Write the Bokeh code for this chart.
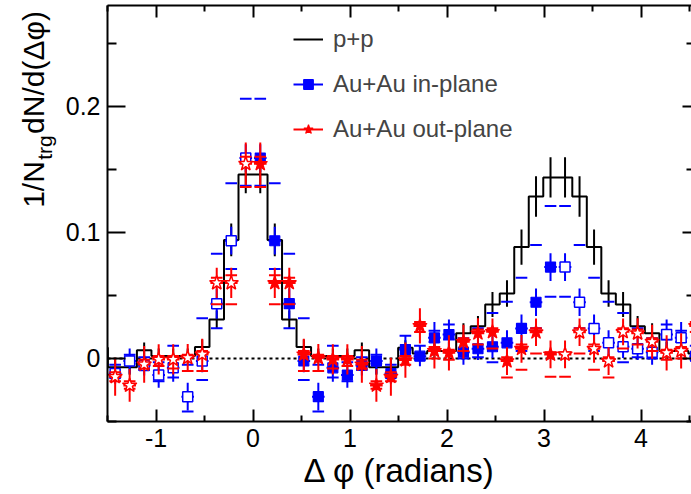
import numpy as np
from bokeh.plotting import figure
from bokeh.layouts import row
from bokeh.models import (FixedTicker, CustomJSTickFormatter, LinearAxis, Span,
                          Label, Legend, LegendItem, ColumnDataSource, Range1d)
from bokeh.embed import file_html
from bokeh.resources import INLINE

# ---------------- data (21 bins from 0 to pi, bin width pi/21) ----------------
n_bins = 21
pp_y = [0.146, 0.094, 0.031, 0.009, 0.002, 0.002, 0.002, 0.0066, -0.007, -0.007,
        0.0085, 0.004, 0.006, 0.006, 0.020, 0.0256, 0.0428, 0.0515, 0.0884, 0.1285, 0.1436]
pp_err = [0.015, 0.013, 0.007, 0.006, 0.006, 0.006, 0.006, 0.006, 0.006, 0.006,
          0.006, 0.006, 0.006, 0.007, 0.008, 0.008, 0.010, 0.0105, 0.014, 0.016, 0.016]

in_y = [0.159, 0.0934, 0.0435, -0.002, -0.0303, -0.0074, -0.0132, -0.0055, -0.0021, -0.012,
        0.0071, 0.0018, 0.0164, 0.019, 0.005, 0.0077, 0.0093, 0.0124, 0.0238, 0.0446, 0.0725]
in_err = [0.011, 0.011, 0.012, 0.009, 0.011, 0.011, 0.010, 0.008, 0.010, 0.008,
          0.011, 0.008, 0.0125, 0.012, 0.010, 0.009, 0.009, 0.010, 0.011, 0.011, 0.011]
in_sys_hi = [0.206, 0.139, 0.083, 0.032, -0.005, 0.010, -0.003, 0.001, 0.003, -0.005,
             0.018, 0.010, 0.022, 0.027, 0.016, 0.024, 0.036, 0.045, 0.064, 0.090, 0.121]
in_sys_lo = [0.137, 0.071, 0.024, -0.017, -0.042, -0.015, -0.018, -0.009, -0.004, -0.015,
             0.002, -0.001, 0.013, 0.015, 0.000, 0.001, -0.003, -0.002, 0.006, 0.024, 0.049]

out_y = [0.1544, 0.0599, 0.0599, 0.0032, 0.0005, -0.0008, -0.0008, -0.0047, -0.0214, -0.0145,
         -0.0013, 0.0258, 0.006, 0.0045, 0.0132, 0.020, 0.0211, -0.0021, 0.0077, 0.0208, 0.0032]
out_err = [0.017, 0.012, 0.012, 0.0125, 0.011, 0.012, 0.012, 0.0145, 0.013, 0.015,
           0.014, 0.014, 0.014, 0.014, 0.0135, 0.012, 0.0106, 0.011, 0.011, 0.011, 0.011]
out_sys_hi = [0.160, 0.066, 0.064, 0.006, 0.003, 0.002, 0.002, -0.001, -0.018, -0.011,
              0.002, 0.029, 0.009, 0.007, 0.016, 0.023, 0.024, 0.001, 0.011, 0.024, 0.005]
out_sys_lo = [0.136, 0.043, 0.043, -0.010, -0.010, -0.008, -0.006, -0.008, -0.024, -0.018,
              -0.005, 0.021, 0.000, -0.001, 0.006, 0.011, 0.008, -0.015, -0.009, 0.004, -0.0145]

x_ticks = [-1, 0, 1, 2, 3, 4]
x_minor = [-1.5, -0.5, 0.5, 1.5, 2.5, 3.5, 4.5]
y_ticks = [0, 0.1, 0.2]
y_minor = [-0.05, 0.05, 0.15, 0.25]

labels = ["p+p", "Au+Au in-plane", "Au+Au out-plane"]
x_title = "\u0394 \u03c6 (radians)"
y_title_parts = ["1/N", "trg", "dN/d(\u0394\u03c6)"]

# ---------------- geometry helpers ----------------
bw = np.pi / n_bins
centers = (np.arange(n_bins) + 0.5) * bw
half = n_bins // 2  # bin straddling pi/2
x_mirror = np.concatenate([-centers[:half + 1], 2 * np.pi - centers[half:]])


def mirror(v):
    v = np.asarray(v, dtype=float)
    return np.concatenate([v[:half + 1], v[half:]])


def make_sources(y, err, hi, lo):
    y, err, hi, lo = (np.asarray(a, dtype=float) for a in (y, err, hi, lo))
    xs_all = np.concatenate([centers, x_mirror])
    ys_all = np.concatenate([y, mirror(y)])
    es_all = np.concatenate([err, mirror(err)])
    hi_all = np.concatenate([hi, mirror(hi)])
    lo_all = np.concatenate([lo, mirror(lo)])
    ex = 0.065
    sx = 0.06
    allsrc = ColumnDataSource(dict(x=xs_all, y=ys_all, ylo=ys_all - es_all, yhi=ys_all + es_all,
                                   xl=xs_all - ex, xr=xs_all + ex,
                                   sxl=xs_all - sx, sxr=xs_all + sx, hi=hi_all, lo=lo_all))
    filled = ColumnDataSource(dict(x=centers, y=y))
    opened = ColumnDataSource(dict(x=x_mirror, y=mirror(y)))
    return allsrc, filled, opened


FONT = "Liberation Sans"
BLUE = "#0000ff"
RED = "#ff0000"
W_LEFT = 60
TOP, BOTTOM = 5, 421  # frame edges in page pixels

p = figure(width=691 - W_LEFT, height=494, x_range=(-1.5, 4.52), y_range=(-0.05, 0.28),
           output_backend="svg", toolbar_location=None,
           min_border_left=107 - W_LEFT, min_border_right=0, min_border_top=TOP,
           min_border_bottom=494 - BOTTOM, x_axis_location=None, y_axis_location=None)
p.outline_line_color = None
p.grid.visible = False
p.background_fill_color = "white"
p.border_fill_color = "white"

# zero line
p.add_layout(Span(location=0, dimension="width", line_color="black",
                  line_dash="3 3", line_width=2, level="underlay"))

# p+p histogram (mirrored)
pp = np.asarray(pp_y)
ppe = np.asarray(pp_err)
x_hist = np.concatenate([-centers[half::-1], centers, 2 * np.pi - centers[:half - 1:-1]])
y_hist = np.concatenate([pp[half::-1], pp, pp[:half - 1:-1]])
e_hist = np.concatenate([ppe[half::-1], ppe, ppe[:half - 1:-1]])
pp_src = ColumnDataSource(dict(x=x_hist, y=y_hist, ylo=y_hist - e_hist, yhi=y_hist + e_hist))
pp_step = p.step("x", "y", source=pp_src, mode="center", line_color="black", line_width=2)
p.segment("x", "ylo", "x", "yhi", source=pp_src, line_color="black", line_width=2)

renderers = {}
for name, (y, err, hi, lo, color, marker, size) in {
    "in": (in_y, in_err, in_sys_hi, in_sys_lo, BLUE, "square", 10),
    "out": (out_y, out_err, out_sys_hi, out_sys_lo, RED, "star", 15),
}.items():
    allsrc, filled, opened = make_sources(y, err, hi, lo)
    p.segment("sxl", "hi", "sxr", "hi", source=allsrc, line_color=color, line_width=2)
    p.segment("sxl", "lo", "sxr", "lo", source=allsrc, line_color=color, line_width=2)
    verr = p.segment("x", "ylo", "x", "yhi", source=allsrc, line_color=color, line_width=2)
    p.segment("xl", "y", "xr", "y", source=allsrc, line_color=color, line_width=2)
    p.scatter("x", "y", source=opened, marker=marker, size=size, fill_color="white",
              line_color=color, line_width=1.5)
    sc = p.scatter("x", "y", source=filled, marker=marker, size=size, fill_color=color,
                   line_color=color, line_width=1.2)
    renderers[name] = (verr, sc)

# ---------------- axes ----------------
def style_axis(ax, tin, tmin, labels_on=True):
    ax.axis_line_width = 2
    ax.axis_line_color = "black"
    ax.major_tick_in = tin
    ax.major_tick_out = 0
    ax.minor_tick_in = tmin
    ax.minor_tick_out = 0
    ax.major_tick_line_width = 2
    ax.minor_tick_line_width = 2
    ax.major_label_text_font = FONT
    ax.major_label_text_color = "black"
    if labels_on:
        ax.major_label_text_font_size = "25px"
    else:
        ax.major_label_text_font_size = "0px"
        ax.major_label_standoff = 0
        ax.formatter = CustomJSTickFormatter(code="return '';")


xb = LinearAxis(ticker=FixedTicker(ticks=x_ticks, minor_ticks=x_minor),
                formatter=CustomJSTickFormatter(code="return tick.toFixed(0);"))
style_axis(xb, 12, 6)
xb.major_label_standoff = 7
xb.axis_label = x_title
xb.axis_label_text_font = FONT
xb.axis_label_text_font_size = "33px"
xb.axis_label_text_font_style = "normal"
xb.axis_label_text_color = "black"
xb.axis_label_standoff = 2
p.add_layout(xb, "below")

xt = LinearAxis(ticker=FixedTicker(ticks=x_ticks, minor_ticks=x_minor))
style_axis(xt, 12, 6, labels_on=False)
p.add_layout(xt, "above")

yl = LinearAxis(ticker=FixedTicker(ticks=y_ticks, minor_ticks=y_minor),
                formatter=CustomJSTickFormatter(
                    code="return Math.abs(tick) < 1e-9 ? '0' : tick.toFixed(1);"))
style_axis(yl, 18, 9)
yl.major_label_standoff = 7
p.add_layout(yl, "left")

yr = LinearAxis(ticker=FixedTicker(ticks=y_ticks, minor_ticks=y_minor))
style_axis(yr, 9, 5, labels_on=False)
yr.axis_line_color = None
p.add_layout(yr, "right")

# ---------------- legend ----------------
legend = Legend(items=[LegendItem(label=labels[0], renderers=[pp_step]),
                       LegendItem(label=labels[1], renderers=list(renderers["in"])),
                       LegendItem(label=labels[2], renderers=list(renderers["out"]))],
                location=(186, 278), orientation="vertical",
                glyph_width=30, glyph_height=24, label_height=24, spacing=17,
                label_standoff=10, padding=0, margin=0,
                label_text_font=FONT, label_text_font_size="24px",
                border_line_color=None, background_fill_alpha=0)
p.add_layout(legend)

# ---------------- y-axis title panel (text with subscript) ----------------
# the row layout aligns this panel's frame with the main frame (TOP..BOTTOM),
# so its y range is given directly in page pixels (top = TOP)
t = figure(width=W_LEFT, height=494, x_range=(0, W_LEFT), y_range=Range1d(BOTTOM, TOP),
           output_backend="svg", toolbar_location=None,
           min_border_left=0, min_border_right=0, min_border_top=TOP,
           min_border_bottom=494 - BOTTOM, x_axis_location=None, y_axis_location=None)
t.outline_line_color = None
t.grid.visible = False
t.background_fill_color = "white"
t.border_fill_color = "white"
# (text, centre x, centre y in page px from top, size)
for txt, cx, cy, fs in [(y_title_parts[0], 33, 184, "30px"),
                        (y_title_parts[1], 44, 147, "21px"),
                        (y_title_parts[2], 33, 72, "30px")]:
    t.add_layout(Label(x=cx, y=cy, text=txt, angle=np.pi / 2,
                       text_font=FONT, text_font_size=fs, text_color="black",
                       text_align="center", text_baseline="middle"))

layout = row(t, p, spacing=0)
open("out.html", "w").write(file_html(layout, INLINE))
